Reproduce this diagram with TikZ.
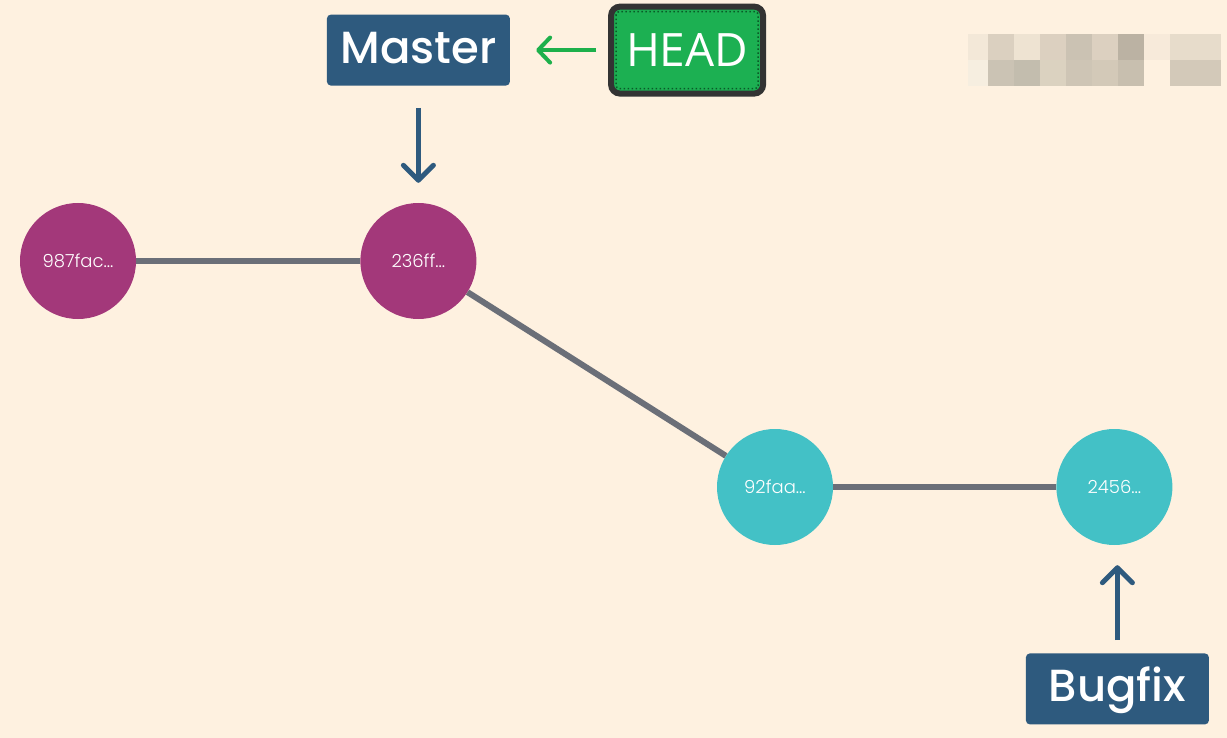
\documentclass[tikz,border=0pt]{standalone}
\usepackage{fontspec}
\setmainfont{Poppins}
\newfontfamily\branchfont{Poppins Medium}
\newfontfamily\commitfont{Poppins Light}
\newfontfamily\headfont{Open Sans}
\usepackage{tikz}
\usetikzlibrary{positioning,arrows.meta}
\definecolor{paper}{HTML}{FEF1E0}
\definecolor{oldcommit}{HTML}{A3387A}
\definecolor{newcommit}{HTML}{43C1C6}
\definecolor{linkgray}{HTML}{6B6F78}
\definecolor{branchblue}{HTML}{2E5A7E}
\definecolor{headgreen}{HTML}{1CB052}
\definecolor{headedge}{HTML}{333333}
\definecolor{headdots}{HTML}{0A5A28}
\definecolor{headarrow}{HTML}{1DB04B}
\tikzstyle{commit} =
        [
                circle,
                text = white,
                minimum size = 116pt,
                inner sep = 0pt,
                text height = 13pt,
                text depth = 0pt,
                font = \commitfont\fontsize{18}{18}\selectfont
        ]
\tikzstyle{branch} =
        [
                rectangle,
                fill = branchblue,
                text = white,
                rounded corners = 4pt,
                minimum width = 183pt,
                minimum height = 71pt,
                text height = 32pt,
                text depth = 6pt,
                font = \branchfont\fontsize{45}{45}\selectfont
        ]
\tikzstyle{headbox} =
        [
                rectangle,
                draw = headedge,
                line width = 6pt,
                fill = headgreen,
                text = white,
                rounded corners = 9pt,
                minimum width = 152pt,
                minimum height = 87pt,
                text height = 33pt,
                text depth = 0pt,
                font = \headfont\fontsize{46}{46}\selectfont
        ]
\tikzstyle{link} =
        [
                line width = 6pt,
                draw = linkgray
        ]
\tikzstyle{pointer} =
        [
                line width = 5pt,
                draw = branchblue,
                -{Straight Barb[length=15pt,width=30pt,round]}
        ]

\begin{document}
\begin{tikzpicture}[x=1pt,y=-1pt]
    \fill [paper] (0,0) rectangle (1227,738);
    \useasboundingbox (0,0) rectangle (1227,738);
    % commits
    \node [commit, fill = oldcommit] (c1) at (78,261) {987fac...};
    \node [commit, fill = oldcommit, right = 224pt of c1] (c2) {236ff...};
    \node [commit, fill = newcommit] (c3) at (775,487) {92faa...};
    \node [commit, fill = newcommit, right = 223pt of c3] (c4) {2456...};
    \path [link] (c1) -- (c2);
    \path [link] (c2) -- (c3);
    \path [link] (c3) -- (c4);
    % branches
    \node [branch, above = 117pt of c2] (master) {Master};
    \node [branch, below = 108pt of c4, xshift = 3pt] (bugfix) {Bugfix};
    \node [headbox, right = 98pt of master] (head) {HEAD};
    \draw [draw = headdots, line width = 1.5pt, dash pattern = on 1.5pt off 2.5pt, rounded corners = 3pt]
        ([shift={(8,8)}]head.north west) rectangle ([shift={(-8,-8)}]head.south east);
    \path [pointer, shorten < = 22pt, shorten > = 20pt] (master) -- (c2);
    \path [pointer, shorten < = 13pt, shorten > = 20pt] (bugfix.north) -- (bugfix.north |- c4.south);
    \path [pointer, draw = headarrow, line width = 4pt, -{Straight Barb[length=12pt,width=25pt,round]},
        shorten < = 12pt, shorten > = 26pt] (head) -- (master);
    % blurred corner
    \foreach \xa/\xb/\ctop/\cbot in {968/988/F3E8D8/F6EEE0, 988/1014/DBD0C0/CBC3B4,
        1014/1040/EEE3D2/C3BDAE, 1040/1066/DCD0C0/DBD2C0, 1066/1092/CBC2B3/CEC5B5,
        1092/1118/DCD0C0/D3C9B8, 1118/1144/BBB2A3/C8BFAF, 1144/1170/F7EADA/FEF1E0,
        1170/1221/E7DCCB/D3C9B9}
    {
        \definecolor{tilea}{HTML}{\ctop}
        \definecolor{tileb}{HTML}{\cbot}
        \fill [tilea] (\xa,34) rectangle (\xb,60);
        \fill [tileb] (\xa,60) rectangle (\xb,86);
    }
\end{tikzpicture}
\end{document}
